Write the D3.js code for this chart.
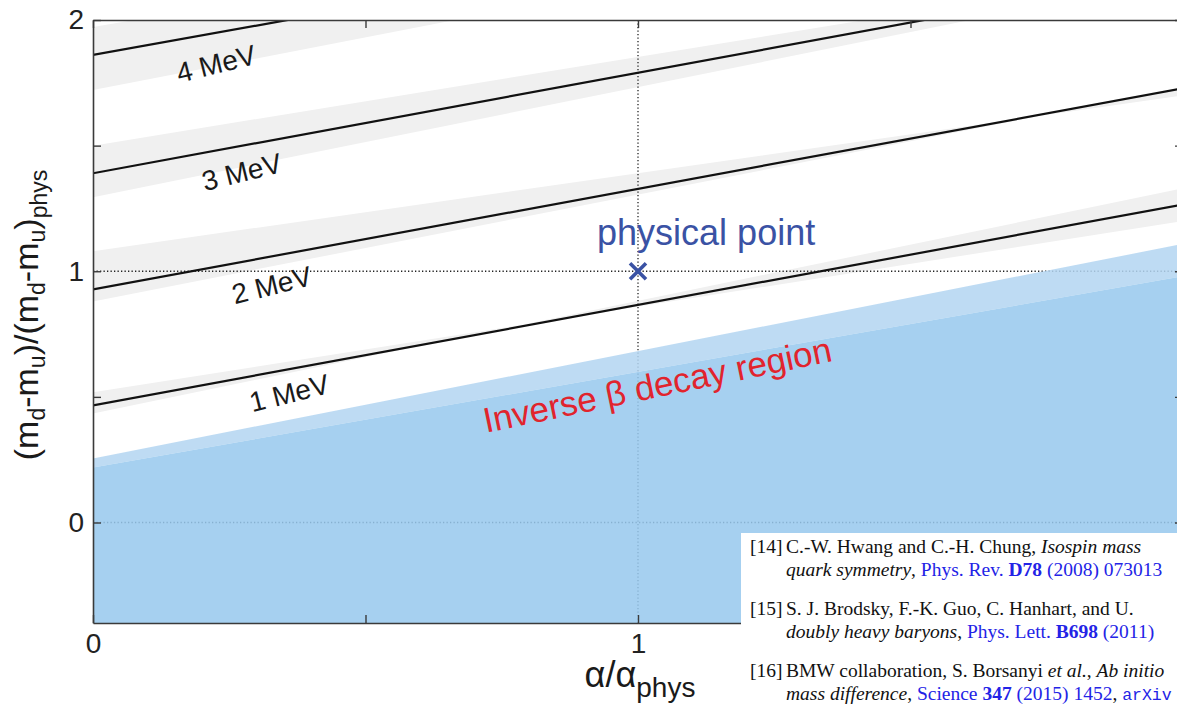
<!DOCTYPE html>
<html>
<head>
<meta charset="utf-8">
<script src="https://cdnjs.cloudflare.com/ajax/libs/d3/7.8.5/d3.min.js"></script>
<style>
  body { margin: 0; background: #fff; overflow: hidden; }
  svg { display: block; }
</style>
</head>
<body>
<div id="chart"></div>
<script>
// lines of constant neutron-proton mass difference, value of y at alpha = 0 and alpha = 2
var energyLabels = ["1 MeV", "2 MeV", "3 MeV", "4 MeV"];
var lineAtZero = [0.466, 0.928, 1.39, 1.861];
var lineAtTwo = [1.266, 1.728, 2.19, 2.64];

// grey uncertainty bands (two edges, each given at alpha = 0 and alpha = 2)
var bandAAtZero = [0.518, 1.08, 1.50, 1.972];
var bandAAtTwo = [1.20, 1.70, 2.206, 2.712];
var bandBAtZero = [0.434, 0.88, 1.295, 1.721];
var bandBAtTwo = [1.33, 1.73, 2.171, 2.561];

// where the MeV labels sit (alpha, y)
var labelAlpha = [0.36, 0.328, 0.273, 0.226];
var labelValue = [0.514, 0.944, 1.394, 1.825];

// inverse beta decay region: upper edges at alpha = 0 and alpha = 2
var decayAlpha = [0, 2];
var decayLightTop = [0.255, 1.109];
var decayDarkTop = [0.219, 0.98];

var physicalPoint = [1, 1];

var xTicks = [0, 0.5, 1, 1.5, 2];
var xTickLabels = [0, 1];
var yTicks = [0, 0.5, 1, 1.5, 2];
var yTickLabels = [0, 1, 2];

// bibliography snippet pasted over the corner (only the part that fits on the page)
var refNumbers = ["[14]", "[15]", "[16]"];
var refLines = [
  [ [["C.-W. Hwang and C.-H. Chung, ", "n"], ["Isospin mass", "i"]],
    [["quark symmetry", "i"], [", ", "n"], ["Phys. Rev. ", "l"], ["D78", "lb"], [" (2008) 073013", "l"]] ],
  [ [["S. J. Brodsky, F.-K. Guo, C. Hanhart, and U.", "n"]],
    [["doubly heavy baryons", "i"], [", ", "n"], ["Phys. Lett. ", "l"], ["B698", "lb"], [" (2011)", "l"]] ],
  [ [["BMW collaboration, S. Borsanyi ", "n"], ["et al.", "i"], [", ", "n"], ["Ab initio", "i"]],
    [["mass difference", "i"], [", ", "n"], ["Science ", "l"], ["347", "lb"], [" (2015) 1452", "l"], [", ", "n"], ["arXiv", "lt"]] ]
];

var margin = {top: 20, right: 0, bottom: 86, left: 93},
    width = 1090,
    height = 603;

var svg = d3.select("#chart")
  .append("svg")
    .attr("width", 1177)
    .attr("height", 709)
    .style("font-family", "'Liberation Sans', Arial, Helvetica, sans-serif");

var g = svg.append("g")
    .attr("transform", "translate(" + margin.left + "," + margin.top + ")");

var x = d3.scaleLinear().domain([0, 2]).range([0, width]);
var y = d3.scaleLinear().domain([-0.4, 2]).range([height, 0]);

g.append("clipPath").attr("id", "plotclip")
  .append("rect").attr("width", width).attr("height", height);

var plot = g.append("g").attr("clip-path", "url(#plotclip)");

// grey bands
energyLabels.forEach(function(d, i) {
  var pts = [[0, bandAAtZero[i]], [2, bandAAtTwo[i]], [2, bandBAtTwo[i]], [0, bandBAtZero[i]]];
  plot.append("path")
    .attr("d", d3.line().x(function(p) { return x(p[0]); }).y(function(p) { return y(p[1]); })(pts) + "Z")
    .attr("fill", "#f0f0f0")
    .attr("fill-rule", "evenodd");
});

// dotted reference lines
var dots = plot.append("g")
  .attr("stroke", "#222")
  .attr("stroke-width", 1.3)
  .attr("stroke-dasharray", "1.3,2.2");
dots.append("line").attr("x1", 0).attr("x2", width).attr("y1", y(physicalPoint[1])).attr("y2", y(physicalPoint[1]));
dots.append("line").attr("x1", 0).attr("x2", width).attr("y1", y(0)).attr("y2", y(0));
dots.append("line").attr("x1", x(physicalPoint[0])).attr("x2", x(physicalPoint[0])).attr("y1", 0).attr("y2", height);

// inverse beta decay region (slightly see-through, so dotted lines show faintly)
var decay = decayAlpha.map(function(a, i) { return {a: a, light: decayLightTop[i], dark: decayDarkTop[i]}; });

plot.append("path")
  .datum(decay)
  .attr("d", d3.area()
    .x(function(d) { return x(d.a); })
    .y0(function(d) { return y(d.dark); })
    .y1(function(d) { return y(d.light); }))
  .attr("fill", "#b3d5f1")
  .attr("fill-opacity", 0.86);

plot.append("path")
  .datum(decay)
  .attr("d", d3.area()
    .x(function(d) { return x(d.a); })
    .y0(y(-0.4))
    .y1(function(d) { return y(d.dark); }))
  .attr("fill", "#97c8ed")
  .attr("fill-opacity", 0.86);

// black iso-lines
energyLabels.forEach(function(d, i) {
  plot.append("path")
    .datum([[0, lineAtZero[i]], [2, lineAtTwo[i]]])
    .attr("d", d3.line()
      .x(function(p) { return x(p[0]); })
      .y(function(p) { return y(p[1]); }))
    .attr("stroke", "#111")
    .attr("stroke-width", 2.2)
    .attr("fill", "none");
});

// axes, ticks pointing inward
function styleAxis(sel) {
  sel.selectAll("path.domain").attr("stroke", "#3a3a3a").attr("stroke-width", 1.6);
  sel.selectAll(".tick line").attr("stroke", "#3a3a3a").attr("stroke-width", 1.4);
  sel.selectAll("text")
    .attr("font-size", 28)
    .attr("fill", "#222")
    .style("font-family", "'Liberation Sans', Arial, Helvetica, sans-serif");
}

g.append("g")
  .call(d3.axisLeft(y).tickValues(yTicks).tickSize(-8).tickSizeOuter(0).tickPadding(9)
    .tickFormat(function(d) { return yTickLabels.indexOf(d) >= 0 ? d : ""; }))
  .call(styleAxis);

g.append("g")
  .attr("transform", "translate(0," + height + ")")
  .call(d3.axisBottom(x).tickValues(xTicks).tickSize(-8).tickSizeOuter(0).tickPadding(10)
    .tickFormat(function(d) { return xTickLabels.indexOf(d) >= 0 ? d : ""; }))
  .call(styleAxis);

g.append("g")
  .call(d3.axisTop(x).tickValues(xTicks).tickSize(-8).tickSizeOuter(0).tickFormat(""))
  .call(styleAxis);

g.append("g")
  .attr("transform", "translate(" + width + ",0)")
  .call(d3.axisRight(y).tickValues(yTicks).tickSize(-8).tickSizeOuter(0).tickFormat(""))
  .call(styleAxis);

// MeV labels
energyLabels.forEach(function(d, i) {
  g.append("text")
    .attr("transform", "translate(" + x(labelAlpha[i]) + "," + y(labelValue[i]) + ") rotate(-14)")
    .attr("text-anchor", "middle")
    .attr("dominant-baseline", "central")
    .attr("font-size", 28)
    .attr("fill", "#1a1a1a")
    .text(d);
});

// physical point marker and label
var px = x(physicalPoint[0]), py = y(physicalPoint[1]);
g.append("path")
  .attr("d", "M" + (px - 8) + "," + (py - 8) + "L" + (px + 8) + "," + (py + 8) +
             "M" + (px - 8) + "," + (py + 8) + "L" + (px + 8) + "," + (py - 8))
  .attr("stroke", "#3a52a4")
  .attr("stroke-width", 3.6);

g.append("text")
  .attr("x", x(1.125))
  .attr("y", y(1.104))
  .attr("text-anchor", "middle")
  .attr("font-size", 36)
  .attr("fill", "#3a52a4")
  .text("physical point");

// region label
g.append("text")
  .attr("transform", "translate(" + x(1.04) + "," + y(0.5) + ") rotate(-11.7)")
  .attr("text-anchor", "middle")
  .attr("font-size", 35)
  .attr("fill", "#e1242d")
  .text("Inverse \u03b2 decay region");

// y axis title
var yt = svg.append("text")
  .attr("transform", "translate(38,315) rotate(-90)")
  .attr("text-anchor", "middle")
  .attr("font-size", 34)
  .attr("fill", "#1a1a1a");
yt.append("tspan").text("(m");
yt.append("tspan").attr("dy", 7).attr("font-size", 23).text("d");
yt.append("tspan").attr("dy", -7).text("-m");
yt.append("tspan").attr("dy", 7).attr("font-size", 23).text("u");
yt.append("tspan").attr("dy", -7).text(")/(m");
yt.append("tspan").attr("dy", 7).attr("font-size", 23).text("d");
yt.append("tspan").attr("dy", -7).text("-m");
yt.append("tspan").attr("dy", 7).attr("font-size", 23).text("u");
yt.append("tspan").attr("dy", -7).text(")");
yt.append("tspan").attr("dy", 9).attr("font-size", 23).text("phys");

// x axis title
var xt = svg.append("text")
  .attr("x", margin.left + x(1) + 2)
  .attr("y", 687)
  .attr("text-anchor", "middle")
  .attr("font-size", 36)
  .attr("fill", "#1a1a1a");
xt.append("tspan").text("\u03b1/\u03b1");
xt.append("tspan").attr("dy", 10).attr("font-size", 28).text("phys");

// bibliography box on top
var refs = svg.append("g").style("font-family", "'Liberation Serif', 'Times New Roman', serif");
refs.append("rect")
  .attr("x", 741).attr("y", 533)
  .attr("width", 500).attr("height", 200)
  .attr("fill", "#fff");

var baselines = [[553, 576], [615, 638], [677, 700]];
refLines.forEach(function(ref, i) {
  refs.append("text")
    .attr("x", 750).attr("y", baselines[i][0])
    .attr("font-size", 19.5).attr("fill", "#111")
    .text(refNumbers[i]);
  ref.forEach(function(line, j) {
    var t = refs.append("text")
      .attr("x", 786).attr("y", baselines[i][j])
      .attr("font-size", 19.5)
      .attr("xml:space", "preserve")
      .style("white-space", "pre");
    line.forEach(function(seg) {
      var s = t.append("tspan").text(seg[0]);
      var st = seg[1];
      s.attr("fill", st.charAt(0) == "l" ? "#2323e6" : "#111");
      if (st == "i") s.attr("font-style", "italic");
      if (st == "lb") s.attr("font-weight", "bold");
      if (st == "lt") s.style("font-family", "'Liberation Mono', 'DejaVu Sans Mono', monospace").attr("font-size", 16.5);
    });
  });
});
</script>
</body>
</html>
